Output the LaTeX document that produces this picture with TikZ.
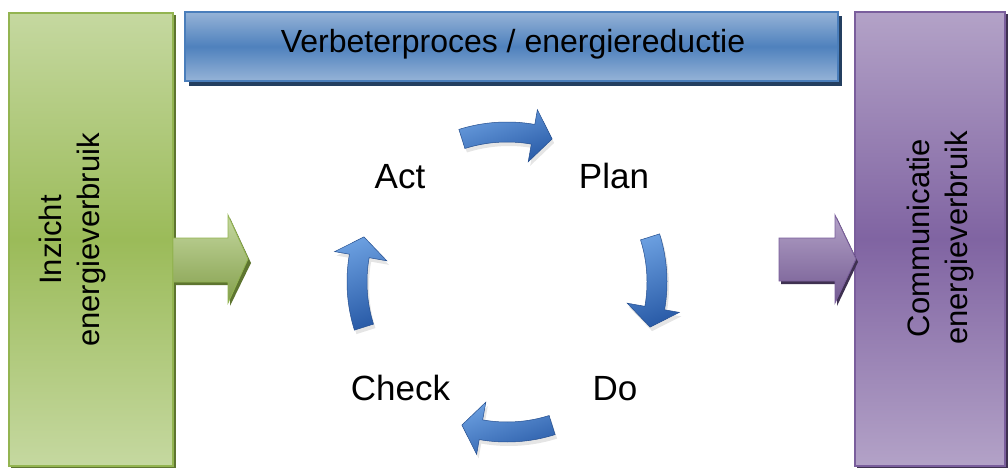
\documentclass[tikz,border=0pt]{standalone}
\usepackage{fontspec}
\setmainfont{Liberation Sans}
\definecolor{gLight}{HTML}{C5D8A0}
\definecolor{gMid}{HTML}{9BBB59}
\definecolor{gLine}{HTML}{93B451}
\definecolor{gShadow}{HTML}{5E7530}
\definecolor{pLight}{HTML}{B3A2C7}
\definecolor{pMid}{HTML}{8064A2}
\definecolor{pLine}{HTML}{7A5E9C}
\definecolor{pShadow}{HTML}{3F3151}
\definecolor{bLight}{HTML}{95B3D7}
\definecolor{bMid}{HTML}{4F81BD}
\definecolor{bLine}{HTML}{4A7EBB}
\definecolor{bShadow}{HTML}{243F60}
\definecolor{aLight}{HTML}{6A9EDF}
\definecolor{aDark}{HTML}{2A5CA8}
\newcommand\cycarrow[1]{%
  \fill[black,opacity=0.10] ([shift={(2,4)}]{#1-17.5}:160) arc[start angle={#1-17.5}, end angle={#1+10}, radius=160]
    -- ([shift={(2,4)}]{#1+10}:175) -- ([shift={(2,4)}]{#1+17.5}:150) -- ([shift={(2,4)}]{#1+10}:122)
    -- ([shift={(2,4)}]{#1+10}:140) arc[start angle={#1+10}, end angle={#1-17.5}, radius=140] -- cycle;
  \path[top color=aLight, bottom color=aDark, shading angle=20, draw=aDark!85!black, line width=0.5]
    ({#1-17.5}:160) arc[start angle={#1-17.5}, end angle={#1+10}, radius=160]
    -- ({#1+10}:175) -- ({#1+17.5}:150) -- ({#1+10}:122)
    -- ({#1+10}:140) arc[start angle={#1+10}, end angle={#1-17.5}, radius=140] -- cycle;
}
\begin{document}
\begin{tikzpicture}[x=1pt,y=-1pt,
  rottext/.style={rotate=90, align=center, font=\fontsize{31}{38}\selectfont, inner sep=0},
  steptext/.style={anchor=base, font=\fontsize{35}{40}\selectfont, inner sep=0}]
\useasboundingbox (0,0) rectangle (1008,468);
\fill[white] (0,0) rectangle (1008,468);
% green box
\fill[gShadow] (11,15) rectangle (176,468);
\node[draw=gLine, line width=1.2, top color=gLight, bottom color=gLight, middle color=gMid,
  minimum width=164, minimum height=453, inner sep=0] (inz) at (91,239.5) {};
\node[rottext] (inztxt) at (72,240) {Inzicht\\energieverbruik};
% purple box
\fill[pShadow] (857,14) rectangle (1008,468);
\node[draw=pLine, line width=1.2, top color=pLight, bottom color=pLight, middle color=pMid,
  minimum width=150, minimum height=454, inner sep=0] (com) at (930,239) {};
\node[rottext] (comtxt) at (940,238) {Communicatie\\energieverbruik};
% banner
\fill[bShadow] (189,16) rectangle (842,86);
\node[draw=bLine, line width=1.2, top color=bLight, bottom color=bLight, middle color=bMid,
  minimum width=653, minimum height=69, inner sep=0] (ban) at (511.5,46.5) {};
\node[anchor=base, font=\fontsize{32}{38}\selectfont, inner sep=0] (bantxt) at (513,53) {Verbeterproces / energiereductie};
% green block arrow
\fill[gShadow] (175,241) -- (230,241) -- (230,218) -- (251,263) -- (230,306) -- (230,285) -- (175,285) -- cycle;
\path[top color=gLight, bottom color=gMid!85!black, draw=gLine, line width=0.8]
  (173,238) -- (228,238) -- (228,215) -- (248,259) -- (228,303) -- (228,282) -- (173,282) -- cycle;
% purple block arrow
\fill[pShadow] (781,241) -- (837,241) -- (837,218) -- (858,262) -- (837,306) -- (837,284) -- (781,284) -- cycle;
\path[top color=pLight, bottom color=pMid!90!black, draw=pLine, line width=0.8]
  (779,238) -- (835,238) -- (835,215) -- (856,259) -- (835,303) -- (835,281) -- (779,281) -- cycle;
% cycle texts
\node[steptext] (act) at (400,188) {Act};
\node[steptext] (plan) at (614,188) {Plan};
\node[steptext] (do) at (615,400) {Do};
\node[steptext] (check) at (400.5,400) {Check};
% curved cycle arrows
\begin{scope}[shift={(507,282)}]
\cycarrow{-90}
\cycarrow{0}
\cycarrow{90}
\cycarrow{180}
\end{scope}
\end{tikzpicture}
\end{document}
